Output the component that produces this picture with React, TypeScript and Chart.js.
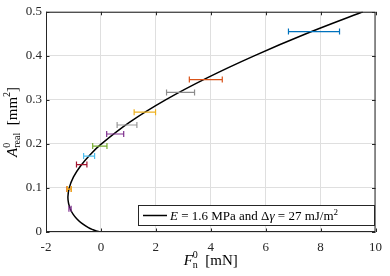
import React, { useEffect, useRef } from "react";
import { Chart, registerables } from "chart.js";

Chart.register(...registerables);

// Model curve (E = 1.6 MPa, Δγ = 27 mJ/m²)
const curveF = [0, -0.089, -0.173, -0.284, -0.456, -0.704, -0.881, -1.009, -1.099, -1.178, -1.202, -1.155, -0.998, -0.743, -0.401, 0.017, 1.063, 2.354, 3.868, 5.58, 7.47, 9.54];
const curveA = [0, 0.001, 0.0025, 0.005, 0.01, 0.02, 0.03, 0.04, 0.05, 0.065, 0.08, 0.1, 0.125, 0.15, 0.175, 0.2, 0.25, 0.3, 0.35, 0.4, 0.45, 0.5];

// Measurements with horizontal error bars
const measF = [7.76, 3.82, 2.9, 1.6, 0.95, 0.52, -0.04, -0.43, -0.7, -1.16, -1.15, -1.125];
const measA = [0.455, 0.346, 0.317, 0.272, 0.243, 0.2225, 0.195, 0.1725, 0.153, 0.0975, 0.0975, 0.053];
const measErr = [0.93, 0.6, 0.51, 0.39, 0.36, 0.31, 0.26, 0.2, 0.19, 0.08, 0.07, 0.04];
const measColors = ["#0072BD", "#D95319", "#8C8C8C", "#EDB120", "#999999", "#7E2F8E", "#77AC30", "#4DBEEE", "#A2142F", "#D95319", "#EDB120", "#7E2F8E"];

const xTicks = [-2, 0, 2, 4, 6, 8, 10];
const yTicks = [0, 0.1, 0.2, 0.3, 0.4, 0.5];
const legendLabel = "E = 1.6 MPa and Δγ = 27 mJ/m²";

const FONT = '"Liberation Serif", "DejaVu Serif", serif';

type Seg = { t: string; it?: boolean; s?: number; dy?: number; stack?: boolean };

function segFont(s: Seg, base: number) {
  return `${s.it ? "italic " : ""}${s.s || base}px ${FONT}`;
}

function measureRich(ctx: CanvasRenderingContext2D, segs: Seg[], base: number) {
  let w = 0;
  let lastStart = 0;
  let lastW = 0;
  for (const s of segs) {
    ctx.font = segFont(s, base);
    const sw = ctx.measureText(s.t).width;
    if (s.stack) {
      const nw = Math.max(lastW, sw);
      w = lastStart + nw;
      lastW = nw;
    } else {
      lastStart = w;
      lastW = sw;
      w += sw;
    }
  }
  return w;
}

function drawRich(ctx: CanvasRenderingContext2D, segs: Seg[], x: number, y: number, base: number, align: string) {
  const total = measureRich(ctx, segs, base);
  let start = align === "center" ? x - total / 2 : align === "right" ? x - total : x;
  let w = 0;
  let lastStart = 0;
  let lastW = 0;
  ctx.textAlign = "left";
  ctx.textBaseline = "alphabetic";
  for (const s of segs) {
    ctx.font = segFont(s, base);
    const sw = ctx.measureText(s.t).width;
    if (s.stack) {
      ctx.fillText(s.t, start + lastStart, y + (s.dy || 0));
      const nw = Math.max(lastW, sw);
      w = lastStart + nw;
      lastW = nw;
    } else {
      ctx.fillText(s.t, start + w, y + (s.dy || 0));
      lastStart = w;
      lastW = sw;
      w += sw;
    }
  }
}

const overlayPlugin = {
  id: "overlay",
  afterDatasetsDraw(chart: any) {
    const ctx: CanvasRenderingContext2D = chart.ctx;
    const xs = chart.scales.x;
    const ys = chart.scales.y;
    ctx.save();
    ctx.lineWidth = 1.2;
    for (let i = 0; i < measF.length; i++) {
      const y = ys.getPixelForValue(measA[i]);
      const x1 = xs.getPixelForValue(measF[i] - measErr[i]);
      const x2 = xs.getPixelForValue(measF[i] + measErr[i]);
      ctx.strokeStyle = measColors[i];
      ctx.beginPath();
      ctx.moveTo(x1, y);
      ctx.lineTo(x2, y);
      ctx.moveTo(x1, y - 3);
      ctx.lineTo(x1, y + 3);
      ctx.moveTo(x2, y - 3);
      ctx.lineTo(x2, y + 3);
      ctx.stroke();
    }
    ctx.restore();
  },
  afterDraw(chart: any) {
    const ctx: CanvasRenderingContext2D = chart.ctx;
    const a = chart.chartArea;
    const xs = chart.scales.x;
    const ys = chart.scales.y;
    ctx.save();
    ctx.strokeStyle = "#262626";
    ctx.lineWidth = 1;
    ctx.beginPath();
    for (const v of xTicks) {
      const x = Math.round(xs.getPixelForValue(v)) + 0.5;
      ctx.moveTo(x, a.bottom);
      ctx.lineTo(x, a.bottom - 3.5);
      ctx.moveTo(x, a.top);
      ctx.lineTo(x, a.top + 3.5);
    }
    for (const v of yTicks) {
      const y = Math.round(ys.getPixelForValue(v)) + 0.5;
      ctx.moveTo(a.left, y);
      ctx.lineTo(a.left + 3.5, y);
      ctx.moveTo(a.right, y);
      ctx.lineTo(a.right - 3.5, y);
    }
    ctx.stroke();
    ctx.strokeRect(a.left + 0.5, a.top + 0.5, a.right - a.left - 1, a.bottom - a.top - 1);

    // legend
    const lx = 138, ly = 205, lw = 237, lh = 21;
    ctx.fillStyle = "#ffffff";
    ctx.fillRect(lx, ly, lw, lh);
    ctx.strokeStyle = "#262626";
    ctx.lineWidth = 1;
    ctx.strokeRect(lx + 0.5, ly + 0.5, lw - 1, lh - 1);
    ctx.strokeStyle = "#000000";
    ctx.lineWidth = 1.5;
    ctx.beginPath();
    ctx.moveTo(143, 215.5);
    ctx.lineTo(167, 215.5);
    ctx.stroke();
    ctx.fillStyle = "#000000";
    const parts = legendLabel.split("Δγ");
    const eq = parts[0].replace(/^E/, "");
    const rest = parts[1].replace("²", "");
    drawRich(
      ctx,
      [
        { t: "E", it: true },
        { t: eq },
        { t: "Δ" },
        { t: "γ", it: true },
        { t: rest },
        { t: "2", s: 9, dy: -5 },
      ],
      170,
      220,
      13,
      "left"
    );

    // x title
    drawRich(
      ctx,
      [
        { t: "F", it: true },
        { t: "0", s: 10, dy: -7 },
        { t: "n", s: 10, dy: 3, stack: true },
        { t: "  [mN]" },
      ],
      (a.left + a.right) / 2,
      265,
      15,
      "center"
    );

    // y title (rotated)
    ctx.save();
    ctx.translate(17, (a.top + a.bottom) / 2);
    ctx.rotate(-Math.PI / 2);
    drawRich(
      ctx,
      [
        { t: "A", it: true },
        { t: "0", s: 10, dy: -7 },
        { t: "real", s: 10, dy: 3, stack: true },
        { t: "  [mm" },
        { t: "2", s: 10, dy: -7 },
        { t: "]" },
      ],
      0,
      0,
      15,
      "center"
    );
    ctx.restore();
    ctx.restore();
  },
};

export default function App() {
  const ref = useRef<HTMLCanvasElement | null>(null);
  useEffect(() => {
    if (!ref.current) return;
    const chart = new Chart(ref.current, {
      type: "scatter",
      data: {
        datasets: [
          {
            data: curveF.map((f, i) => ({ x: f, y: curveA[i] })),
            showLine: true,
            borderColor: "#000000",
            borderWidth: 1.5,
            pointRadius: 0,
            tension: 0.4,
            fill: false,
          },
          {
            data: measF.map((f, i) => ({ x: f, y: measA[i] })),
            pointRadius: 0,
            showLine: false,
          },
        ],
      },
      options: {
        responsive: false,
        animation: false,
        layout: { padding: { top: 8, right: 8, left: 0, bottom: 0 } },
        plugins: { legend: { display: false }, tooltip: { enabled: false } },
        scales: {
          x: {
            type: "linear",
            min: -2,
            max: 10,
            afterBuildTicks: (s: any) => {
              s.ticks = xTicks.map((v) => ({ value: v }));
            },
            afterFit: (s: any) => {
              s.height = 44;
            },
            grid: { color: "#dfdfdf", drawTicks: false, lineWidth: 1 },
            border: { display: false },
            ticks: {
              padding: 8,
              color: "#262626",
              font: { family: FONT, size: 13 },
              maxRotation: 0,
              callback: (v: any) => String(v),
            },
          },
          y: {
            type: "linear",
            min: 0,
            max: 0.5,
            afterBuildTicks: (s: any) => {
              s.ticks = yTicks.map((v) => ({ value: v }));
            },
            afterFit: (s: any) => {
              s.width = 46;
            },
            grid: { color: "#dfdfdf", drawTicks: false, lineWidth: 1 },
            border: { display: false },
            ticks: {
              padding: 4,
              color: "#262626",
              font: { family: FONT, size: 13 },
              callback: (v: any) => String(Math.round(v * 10) / 10),
            },
          },
        },
      },
      plugins: [overlayPlugin],
    } as any);
    return () => chart.destroy();
  }, []);
  return (
    <div style={{ position: "absolute", left: 0, top: 0, width: 390, height: 276, background: "#fff" }}>
      <canvas ref={ref} width={390} height={276} style={{ display: "block" }} />
    </div>
  );
}
